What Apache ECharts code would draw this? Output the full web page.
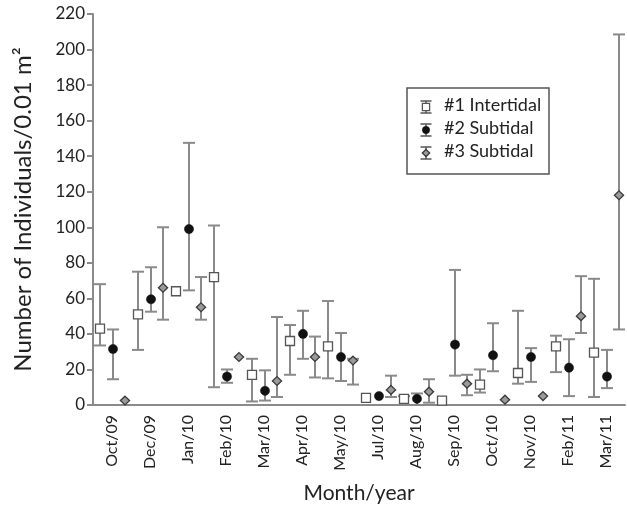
<!DOCTYPE html>
<html>
<head>
<meta charset="utf-8">
<script src="https://cdn.jsdelivr.net/npm/echarts@6/dist/echarts.min.js"></script>
<style>
html,body{margin:0;padding:0;background:#fff;}
#chart{width:627px;height:519px;}
</style>
</head>
<body>
<div id="chart"></div>
<script>
// ---- data ----
var categories = ['Oct/09','Dec/09','Jan/10','Feb/10','Mar/10','Apr/10','May/10','Jul/10','Aug/10','Sep/10','Oct/10','Nov/10','Feb/11','Mar/11'];
var yTicks = [0,20,40,60,80,100,120,140,160,180,200,220];

var site1Name = '#1 Intertidal';
var site1Mean = [43, 51, 64, 72, 17, 36, 33, 4, 3.5, 2.5, 11.5, 18, 33, 29.5];
var site1Low  = [33.5, 31, null, 10, 2, 17, 15, null, 0, null, 7, 12, 18.5, 4.5];
var site1High = [68, 75, null, 101, 26, 45, 58.5, null, 5, null, 20, 53, 39, 71];

var site2Name = '#2 Subtidal';
var site2Mean = [31.5, 59.5, 99, 16, 8, 40, 27, 5, 3.5, 34, 28, 27, 21, 16];
var site2Low  = [14.5, 52.5, 64.5, 12.5, 2.5, 26, 13.5, null, 0, 16.5, 19, 13, 5, 9.5];
var site2High = [42.5, 77.5, 147.5, 20, 19.5, 53, 40.5, null, 6.5, 76, 46, 32, 37, 31];

var site3Name = '#3 Subtidal';
var site3Mean = [2.5, 66, 55, 27, 13.5, 27, 25, 8.5, 7.5, 12, 3, 5, 50, 118];
var site3Low  = [null, 48, 48, null, 4.5, 15.5, 11.5, 4.5, 1.3, 5.5, null, null, 40.5, 42.5];
var site3High = [null, 100, 72, null, 49.5, 38.5, 26, 16.5, 14.5, 17, null, null, 72.5, 208.5];

// ---- styles ----
var FONT = 'Lato';
var BAR_COLOR = '#8a8a8a';
var AXIS_COLOR = '#8a8a8a';
var TEXT_COLOR = '#222';

function buildData(mean, low, high) {
  return mean.map(function (m, i) {
    return [i, m, low[i] == null ? '-' : low[i], high[i] == null ? '-' : high[i]];
  });
}

function markerShape(kind, cx, cy, scale) {
  var k = scale || 1;
  if (kind === 'square') {
    return { type: 'rect', shape: { x: cx - 4.5 * k, y: cy - 4.5 * k, width: 9 * k, height: 9 * k },
      style: { fill: '#fff', stroke: '#555', lineWidth: 1.3 } };
  }
  if (kind === 'circle') {
    return { type: 'circle', shape: { cx: cx, cy: cy, r: 4.6 * k },
      style: { fill: '#111', stroke: '#111', lineWidth: 0.5 } };
  }
  return { type: 'polygon', shape: { points: [[cx, cy - 4.4 * k], [cx + 4.6 * k, cy], [cx, cy + 4.4 * k], [cx - 4.6 * k, cy]] },
    style: { fill: '#9a9a9a', stroke: '#3a3a3a', lineWidth: 1.3 } };
}

function makeRender(offset, kind) {
  return function (params, api) {
    var idx = api.value(0);
    var m = api.value(1);
    var lo = api.value(2);
    var hi = api.value(3);
    var p = api.coord([idx, m]);
    var cx = p[0] + offset;
    var children = [];
    var capHalf = 6;
    if (!isNaN(lo) && !isNaN(hi)) {
      var yl = api.coord([idx, lo])[1];
      var yh = api.coord([idx, hi])[1];
      var st = { stroke: BAR_COLOR, lineWidth: 2 };
      children.push({ type: 'line', shape: { x1: cx, y1: yh, x2: cx, y2: yl }, style: st });
      children.push({ type: 'line', shape: { x1: cx - capHalf, y1: yh, x2: cx + capHalf, y2: yh }, style: st });
      children.push({ type: 'line', shape: { x1: cx - capHalf, y1: yl, x2: cx + capHalf, y2: yl }, style: st });
    }
    var mk = markerShape(kind, cx, p[1]);
    mk.z2 = 10;
    children.push(mk);
    return { type: 'group', children: children };
  };
}

function legendItem(kind, x, y, label) {
  var st = { stroke: '#555', lineWidth: 1.5 };
  var items = [
    { type: 'line', shape: { x1: x, y1: y - 6, x2: x, y2: y + 6 }, style: st },
    { type: 'line', shape: { x1: x - 5.5, y1: y - 6, x2: x + 5.5, y2: y - 6 }, style: st },
    { type: 'line', shape: { x1: x - 5.5, y1: y + 6, x2: x + 5.5, y2: y + 6 }, style: st },
    markerShape(kind, x, y, 0.8),
    { type: 'text', x: x + 18, y: y - 11, style: { text: label, font: '18px ' + FONT, fill: TEXT_COLOR } }
  ];
  items.forEach(function (it) { it.z = 20; });
  return items;
}

var chart = echarts.init(document.getElementById('chart'), null, { renderer: 'canvas' });

var graphics = [
  { type: 'rect', z: 15, shape: { x: 407, y: 88, width: 142, height: 86 }, style: { fill: '#fff', stroke: '#555', lineWidth: 1.5 } }
].concat(legendItem('square', 426, 107, site1Name))
 .concat(legendItem('circle', 426, 130, site2Name))
 .concat(legendItem('diamond', 426, 153, site3Name));

var option = {
  animation: false,
  backgroundColor: '#fff',
  grid: { left: 93, right: 2, top: 14, bottom: 114, containLabel: false },
  xAxis: {
    type: 'category',
    data: categories,
    boundaryGap: true,
    name: 'Month/year',
    nameLocation: 'middle',
    nameGap: 78,
    nameTextStyle: { fontFamily: FONT, fontSize: 21, color: TEXT_COLOR },
    axisLine: { lineStyle: { color: AXIS_COLOR, width: 2 } },
    axisTick: { alignWithLabel: true, length: 6, lineStyle: { color: AXIS_COLOR, width: 2 } },
    axisLabel: { rotate: 90, margin: 10, fontFamily: FONT, fontSize: 16, color: TEXT_COLOR, interval: 0 },
    splitLine: { show: false }
  },
  yAxis: {
    type: 'value',
    min: yTicks[0],
    max: yTicks[yTicks.length - 1],
    interval: yTicks[1] - yTicks[0],
    name: 'Number of Individuals/0.01 m²',
    nameLocation: 'middle',
    nameRotate: 90,
    nameGap: 58,
    nameTextStyle: { fontFamily: FONT, fontSize: 24, color: TEXT_COLOR },
    axisLine: { show: true, lineStyle: { color: AXIS_COLOR, width: 2 } },
    axisTick: { show: true, length: 6, lineStyle: { color: AXIS_COLOR, width: 2 } },
    axisLabel: { margin: 8, fontFamily: FONT, fontSize: 17, color: TEXT_COLOR },
    splitLine: { show: false }
  },
  series: [
    { name: site1Name, type: 'custom', renderItem: makeRender(-12, 'square'), data: buildData(site1Mean, site1Low, site1High), encode: { x: 0, y: 1 }, clip: false },
    { name: site2Name, type: 'custom', renderItem: makeRender(1, 'circle'), data: buildData(site2Mean, site2Low, site2High), encode: { x: 0, y: 1 }, clip: false },
    { name: site3Name, type: 'custom', renderItem: makeRender(13, 'diamond'), data: buildData(site3Mean, site3Low, site3High), encode: { x: 0, y: 1 }, clip: false }
  ],
  graphic: graphics
};
chart.setOption(option);
</script>
</body>
</html>
